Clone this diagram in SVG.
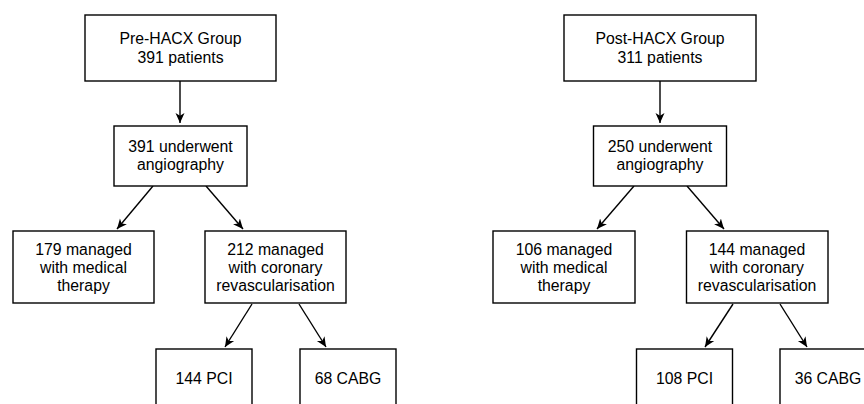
<svg xmlns="http://www.w3.org/2000/svg" width="864" height="404" viewBox="0 0 864 404">
<style>
.box{fill:#fff;stroke:#000;stroke-width:1.4}
.t{font-family:"Liberation Sans",Arial,sans-serif;font-size:15.8px;fill:#000;text-anchor:middle}
.c{stroke:#000;stroke-width:1.4;fill:none;marker-end:url(#ah)}
</style>
<defs>
<marker id="ah" markerUnits="userSpaceOnUse" markerWidth="11" markerHeight="11" viewBox="0 0 11 11" refX="10" refY="5.5" orient="auto">
<path d="M0,1 L10,5.5 L0,10 L2.8,5.5 z" fill="#000"/>
</marker>
</defs>
<rect width="864" height="404" fill="#fff"/>
<g id="connectors">
<line class="c" x1="180" y1="81" x2="180" y2="123"/>
<line class="c" x1="153" y1="186" x2="117" y2="229"/>
<line class="c" x1="206" y1="186" x2="243" y2="229"/>
<line class="c" x1="252" y1="304" x2="225" y2="347"/>
<line class="c" x1="299" y1="304" x2="326" y2="347"/>
<line class="c" x1="660" y1="81" x2="660" y2="123"/>
<line class="c" x1="634" y1="186" x2="597" y2="229"/>
<line class="c" x1="687" y1="186" x2="724" y2="229"/>
<line class="c" x1="733" y1="304" x2="705" y2="347"/>
<line class="c" x1="780" y1="304" x2="807" y2="347"/>
</g>
<g id="pre-group">
<rect class="box" x="85" y="15" width="191" height="66"/>
<text class="t" x="180.5" y="44">Pre-HACX Group</text>
<text class="t" x="180.5" y="62.5">391 patients</text>
</g>
<g id="pre-angio">
<rect class="box" x="114" y="126" width="133" height="60"/>
<text class="t" x="180.5" y="152">391 underwent</text>
<text class="t" x="180.5" y="170">angiography</text>
</g>
<g id="pre-medical">
<rect class="box" x="13" y="231" width="141" height="72"/>
<text class="t" x="83.5" y="255">179 managed</text>
<text class="t" x="83.5" y="273.3">with medical</text>
<text class="t" x="83.5" y="291">therapy</text>
</g>
<g id="pre-revasc">
<rect class="box" x="205" y="231" width="141" height="72"/>
<text class="t" x="275.5" y="255">212 managed</text>
<text class="t" x="275.5" y="273.3">with coronary</text>
<text class="t" x="275.5" y="291">revascularisation</text>
</g>
<g id="pre-pci">
<rect class="box" x="156" y="349" width="96" height="70"/>
<text class="t" x="204" y="384">144 PCI</text>
</g>
<g id="pre-cabg">
<rect class="box" x="300" y="349" width="96" height="70"/>
<text class="t" x="348" y="384">68 CABG</text>
</g>
<g id="post-group">
<rect class="box" x="564" y="15" width="192" height="66"/>
<text class="t" x="660" y="44">Post-HACX Group</text>
<text class="t" x="660" y="62.5">311 patients</text>
</g>
<g id="post-angio">
<rect class="box" x="593.5" y="126" width="133" height="60"/>
<text class="t" x="660" y="152">250 underwent</text>
<text class="t" x="660" y="170">angiography</text>
</g>
<g id="post-medical">
<rect class="box" x="493" y="231" width="142" height="72"/>
<text class="t" x="564" y="255">106 managed</text>
<text class="t" x="564" y="273.3">with medical</text>
<text class="t" x="564" y="291">therapy</text>
</g>
<g id="post-revasc">
<rect class="box" x="686.5" y="231" width="141.5" height="72"/>
<text class="t" x="757" y="255">144 managed</text>
<text class="t" x="757" y="273.3">with coronary</text>
<text class="t" x="757" y="291">revascularisation</text>
</g>
<g id="post-pci">
<rect class="box" x="636.5" y="349" width="96" height="70"/>
<text class="t" x="684.5" y="384">108 PCI</text>
</g>
<g id="post-cabg">
<rect class="box" x="780" y="349" width="96" height="70"/>
<text class="t" x="828" y="384">36 CABG</text>
</g>
</svg>
